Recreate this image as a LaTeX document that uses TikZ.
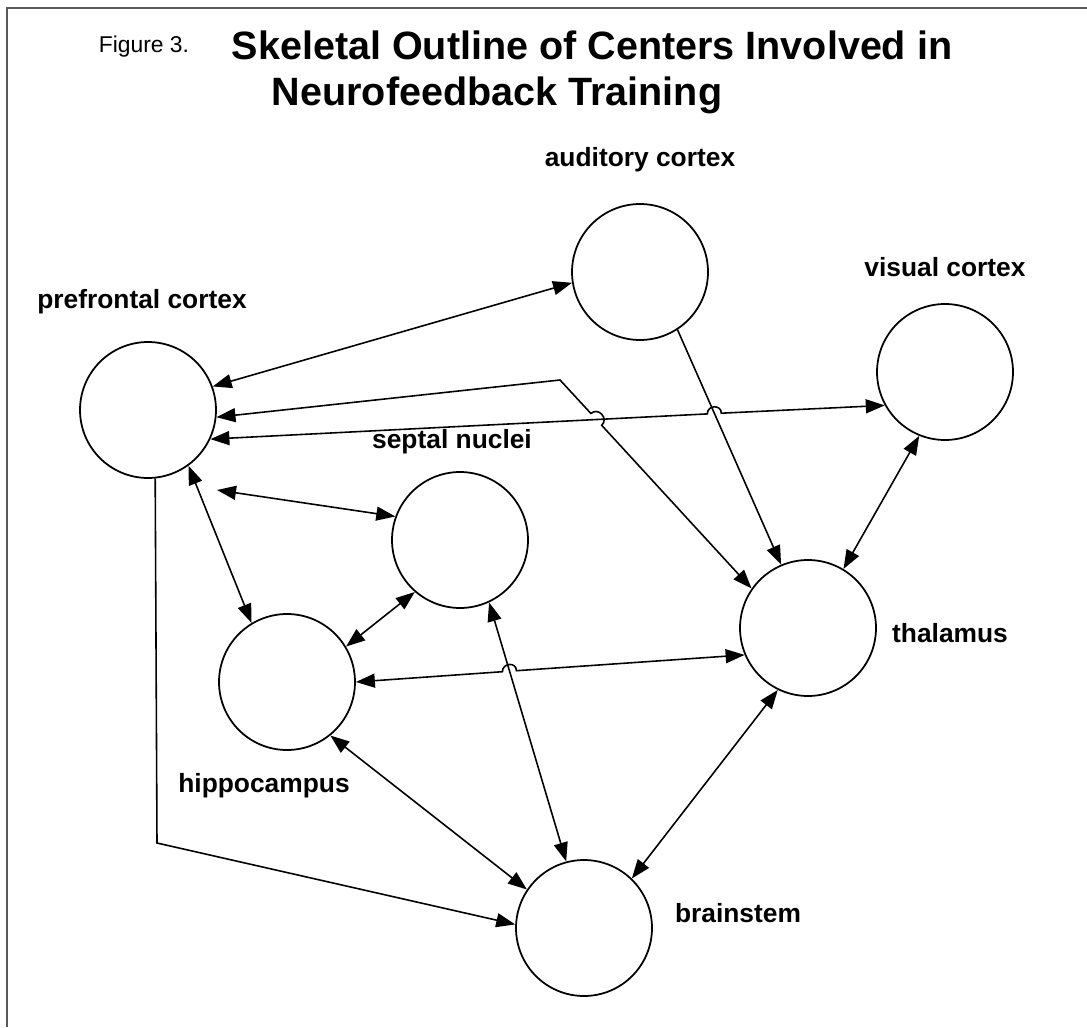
\documentclass[tikz,border=0pt]{standalone}
\usepackage{fontspec}
\setmainfont{Liberation Sans}
\usetikzlibrary{arrows.meta,calc,positioning}

\begin{document}
\begin{tikzpicture}[x=0.02cm, y=-0.02cm,
  every node/.style={font=\bfseries\fontsize{15pt}{18pt}\selectfont},
  area/.style={circle, draw, line width=1pt, minimum size=2.72cm, inner sep=0pt},
  link/.style={line width=0.9pt},
  >={Triangle[length=0.38cm,width=0.28cm]}]
  \useasboundingbox (0,0) rectangle (1087,1027);
  % frame, open to the right and bottom
  \draw[line width=1.6pt, black!65] (7,1027) -- (7,8) -- (1087,8);
  % heading
  \node[font=\fontsize{13pt}{15pt}\selectfont] (fig) at (144,47) {Figure 3.};
  \node[font=\bfseries\fontsize{22.5pt}{26pt}\selectfont] (head1) at (592,45) {Skeletal Outline of Centers Involved in};
  \node[font=\bfseries\fontsize{22.5pt}{26pt}\selectfont] (head2) at (497,95) {Neurofeedback Training};
  % centers
  \node[area] (pfc) at (148,410) {};
  \node[area] (aud) at (640,272) {};
  \node[area] (vis) at (945,372) {};
  \node[area] (sep) at (460,540) {};
  \node[area] (thal) at (808,628) {};
  \node[area] (hip) at (287,682) {};
  \node[area] (bst) at (584,928) {};
  % names
  \node (pfclbl) at (142,302) {prefrontal cortex};
  \node (audlbl) at (640,160) {auditory cortex};
  \node (vislbl) at (945,267) {visual cortex};
  \node (seplbl) at (452,442) {septal nuclei};
  \node (thallbl) at (950,633) {thalamus};
  \node (hiplbl) at (264,786) {hippocampus};
  \node (bstlbl) at (738,913) {brainstem};
  % bends and hops
  \coordinate (bend) at (560,380);
  \coordinate (hopa1) at (590.9,413.5);
  \coordinate (hopa2) at (601.7,425.3);
  \coordinate (hopb1) at (707.3,413.9);
  \coordinate (hopb2) at (721.3,413.2);
  \coordinate (hopc1) at (502.4,671.7);
  \coordinate (hopc2) at (516.4,670.7);
  \coordinate (pfcfree) at (217,490);
  \coordinate (corner) at (157,843);
  % links
  \draw[link,<->] (pfc.20) -- (aud.189);
  \draw[link,<->] (pfc.-6) -- (bend) -- (hopa1)
    .. controls +(7.36,-6.77) and +(7.36,-6.77) .. (hopa2) -- (thal.145);
  \draw[link,<->] (pfc.-25) -- (hopb1)
    .. controls +(0,-9) and +(0,-9) .. (hopb2) -- (vis.209);
  \draw[link,->] (aud.-57) -- (thal.113);
  \draw[link,<->] (vis.-112) -- (thal.59);
  \draw[link,<->] (pfcfree) -- (sep.160);
  \draw[link,<->] (pfc.-54) -- (hip.121);
  \draw[link,<->] (sep.229) -- (hip.31);
  \draw[link,<->] (hip.0) -- (hopc1)
    .. controls +(0,-9) and +(0,-9) .. (hopc2) -- (thal.203);
  \draw[link,<->] (sep.-65) -- (bst.105);
  \draw[link,<->] (hip.-51) -- (bst.146);
  \draw[link,<->] (thal.-116) -- (bst.46);
  \draw[link,->] (pfc.-84) -- (corner) -- (bst.177);
\end{tikzpicture}
\end{document}
